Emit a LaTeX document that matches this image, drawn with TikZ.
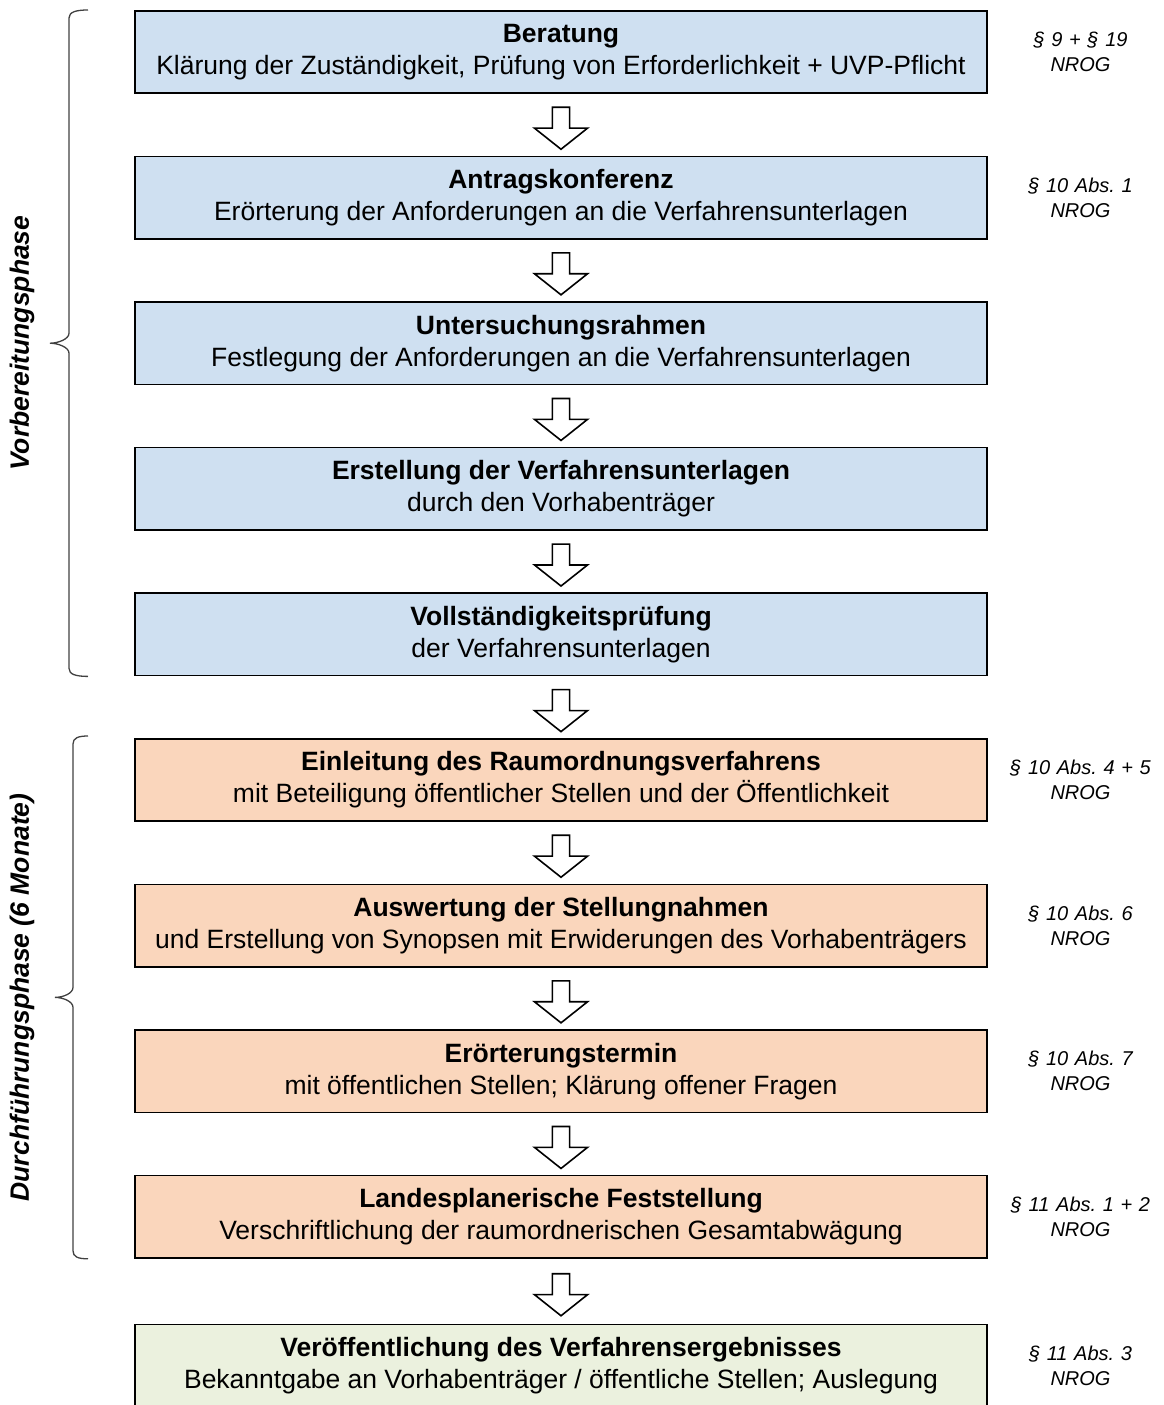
\documentclass[tikz,border=0pt]{standalone}
\usepackage{fontspec}
\setmainfont{Liberation Sans}
\usetikzlibrary{shapes,arrows,positioning,calc}
\definecolor{prepblue}{RGB}{207,224,241}
\definecolor{procorange}{RGB}{250,214,188}
\definecolor{resultgreen}{RGB}{235,241,222}
\frenchspacing

\begin{document}
\begin{tikzpicture}[
    x=1pt, y=-1pt,
    node distance=61.6pt and 14pt,
    stepbox/.style={rectangle, draw, line width=1.6pt, minimum width=852.4pt, minimum height=82.4pt, inner sep=0pt, align=center, font=\fontsize{26.5}{32}\selectfont},
    lawnote/.style={text width=150pt, align=center, font=\fontsize{20}{25}\selectfont\itshape},
    downarrow/.style={single arrow, draw, line width=1.6pt, fill=white, minimum height=42pt, minimum width=53pt, single arrow head extend=14pt, single arrow head indent=0pt, single arrow tip angle=103, inner xsep=0pt, inner ysep=6pt, rotate=-90},
    phasebrace/.style={draw=black!75, line width=1.3pt},
    phaselabel/.style={rotate=90, font=\fontsize{26.5}{30}\selectfont\bfseries\itshape}
]
\useasboundingbox (0,0) rectangle (1164,1405);

\node[stepbox, fill=prepblue] (b1) at (561,52) {\textbf{Beratung}\\Klärung der Zuständigkeit, Prüfung von Erforderlichkeit + UVP-Pflicht};
\node[stepbox, fill=prepblue] (b2) [below=of b1] {\textbf{Antragskonferenz}\\Erörterung der Anforderungen an die Verfahrensunterlagen};
\node[stepbox, fill=prepblue] (b3) [below=of b2] {\textbf{Untersuchungsrahmen}\\Festlegung der Anforderungen an die Verfahrensunterlagen};
\node[stepbox, fill=prepblue] (b4) [below=of b3] {\textbf{Erstellung der Verfahrensunterlagen}\\durch den Vorhabenträger};
\node[stepbox, fill=prepblue] (b5) [below=of b4] {\textbf{Vollständigkeitsprüfung}\\der Verfahrensunterlagen};
\node[stepbox, fill=procorange] (b6) [below=of b5] {\textbf{Einleitung des Raumordnungsverfahrens}\\mit Beteiligung öffentlicher Stellen und der Öffentlichkeit};
\node[stepbox, fill=procorange] (b7) [below=of b6] {\textbf{Auswertung der Stellungnahmen}\\und Erstellung von Synopsen mit Erwiderungen des Vorhabenträgers};
\node[stepbox, fill=procorange] (b8) [below=of b7] {\textbf{Erörterungstermin}\\mit öffentlichen Stellen; Klärung offener Fragen};
\node[stepbox, fill=procorange] (b9) [below=of b8] {\textbf{Landesplanerische Feststellung}\\Verschriftlichung der raumordnerischen Gesamtabwägung};
\node[stepbox, fill=resultgreen] (b10) [below=65pt of b9] {\textbf{Veröffentlichung des Verfahrensergebnisses}\\Bekanntgabe an Vorhabenträger / öffentliche Stellen; Auslegung};

\foreach \from/\to in {b1/b2, b2/b3, b3/b4, b4/b5, b5/b6, b6/b7, b7/b8, b8/b9, b9/b10}
    \node[downarrow] (arr-\from) at ($(\from.south)!0.5!(\to.north)$) {};

\node[lawnote] (n1) [right=of b1] {§ 9 + § 19\\NROG};
\node[lawnote] (n2) [right=of b2] {§ 10 Abs. 1\\NROG};
\node[lawnote] (n6) [right=of b6] {§ 10 Abs. 4 + 5\\NROG};
\node[lawnote] (n7) [right=of b7] {§ 10 Abs. 6\\NROG};
\node[lawnote] (n8) [right=of b8] {§ 10 Abs. 7\\NROG};
\node[lawnote] (n9) [right=of b9] {§ 11 Abs. 1 + 2\\NROG};
\node[lawnote] (n10) [right=of b10] {§ 11 Abs. 3\\NROG};

% phases
\coordinate (prep-top) at ($(b1.north west)+(-46,0)$);
\coordinate (prep-bot) at ($(b5.south west)+(-46,0)$);
\coordinate (prep-mid) at ($(prep-top)!0.5!(prep-bot)$);
\coordinate (proc-top) at ($(b6.north west)+(-46,-2)$);
\coordinate (proc-bot) at ($(b9.south west)+(-46,0)$);
\coordinate (proc-mid) at ($(proc-top)!0.5!(proc-bot)$);
\draw[phasebrace] (prep-top) .. controls +(-12,0) and +(0,-6) .. ($(prep-top)+(-19,8)$)
    -- ($(prep-mid)+(-19,-10)$) .. controls +(0,6) and +(8,0) .. ($(prep-mid)+(-38,0)$)
    .. controls +(8,0) and +(0,-6) .. ($(prep-mid)+(-19,10)$)
    -- ($(prep-bot)+(-19,-8)$) .. controls +(0,6) and +(-12,0) .. (prep-bot);
\draw[phasebrace] (proc-top) .. controls +(-10,0) and +(0,-6) .. ($(proc-top)+(-15,8)$)
    -- ($(proc-mid)+(-15,-10)$) .. controls +(0,6) and +(8,0) .. ($(proc-mid)+(-33,0)$)
    .. controls +(8,0) and +(0,-6) .. ($(proc-mid)+(-15,10)$)
    -- ($(proc-bot)+(-15,-8)$) .. controls +(0,6) and +(-10,0) .. (proc-bot);
\node[phaselabel] (prep) at ($(prep-mid)+(-66,0)$) {Vorbereitungsphase};
\node[phaselabel] (proc) at ($(proc-mid)+(-66,0)$) {Durchführungsphase (6 Monate)};
\end{tikzpicture}
\end{document}
